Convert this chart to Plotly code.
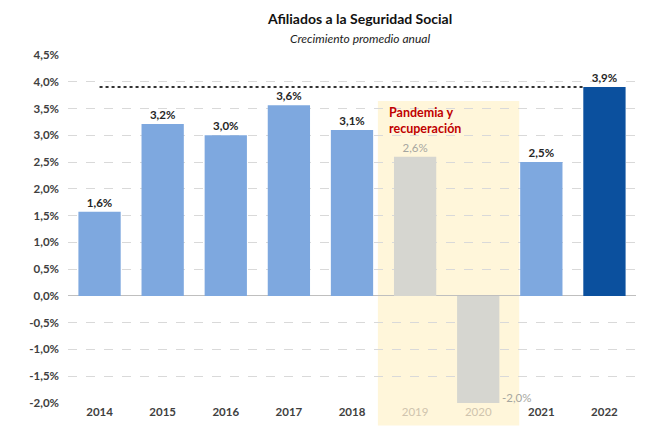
import plotly.graph_objects as go

years = [2014, 2015, 2016, 2017, 2018, 2019, 2020, 2021, 2022]
values = [1.57, 3.21, 3.0, 3.56, 3.1, 2.6, -2.0, 2.5, 3.9]
bar_colors = ["#7EA8DF", "#7EA8DF", "#7EA8DF", "#7EA8DF", "#7EA8DF",
              "#D6D6D0", "#D6D6D0", "#7EA8DF", "#0B509E"]
pandemic_years = [2019, 2020]
y_ticks = [-2.0, -1.5, -1.0, -0.5, 0.0, 0.5, 1.0, 1.5, 2.0, 2.5, 3.0, 3.5, 4.0, 4.5]
ref_level = 3.9


def fmt(v):
    return f"{v:.1f}".replace(".", ",") + "%"


texts = []
text_colors = []
for yr, v in zip(years, values):
    if yr == 2019:
        texts.append(fmt(v))
        text_colors.append("#A6A6A0")
    elif yr == 2020:
        texts.append("")
        text_colors.append("#A6A6A0")
    else:
        texts.append("<b>" + fmt(v) + "</b>")
        text_colors.append("#262626")

ticktext = []
for yr in years:
    if yr in pandemic_years:
        ticktext.append(f"<span style='color:#CFC4AE'>{yr}</span>")
    else:
        ticktext.append(f"<b>{yr}</b>")

fig = go.Figure()
fig.add_trace(go.Bar(
    x=years, y=values, width=0.67,
    marker=dict(color=bar_colors, line=dict(width=0)),
    text=texts, textposition="outside", cliponaxis=False,
    textfont=dict(color=text_colors, size=11.5, family="Lato"),
    hoverinfo="skip",
))

# pandemic highlight
fig.add_shape(type="rect", xref="x", yref="paper", x0=2018.41, x1=2020.65,
              y0=-0.065, y1=(3.64 + 2.0) / 6.5, fillcolor="#FFF6DA",
              line=dict(width=0), layer="below")
# reference dotted line
fig.add_shape(type="line", xref="x", yref="y", x0=2014, x1=2021.66,
              y0=ref_level, y1=ref_level,
              line=dict(color="#333333", width=2, dash="dot"))

fig.add_annotation(x=2018.55, y=3.6, xref="x", yref="y", xanchor="left", yanchor="top",
                   text="<b>Pandemia y<br>recuperación</b>", showarrow=False, align="left",
                   font=dict(color="#C00000", size=12.5, family="Lato"))
fig.add_annotation(x=2020, y=values[6], xref="x", yref="y", xanchor="left", yanchor="middle",
                   xshift=22, yshift=6, text=fmt(values[6]), showarrow=False,
                   font=dict(color="#A6A6A0", size=11.5, family="Lato"))

fig.add_annotation(x=0.514, y=1.0, xref="paper", yref="paper", yanchor="top", yshift=47,
                   text="<b>Afiliados a la Seguridad Social</b>", showarrow=False,
                   font=dict(size=14, color="#111111", family="Lato"))
fig.add_annotation(x=0.514, y=1.0, xref="paper", yref="paper", yanchor="bottom", yshift=7,
                   text="<i>Crecimiento promedio anual</i>", showarrow=False,
                   font=dict(size=12, color="#222222", family="Lato"))

fig.update_layout(
    width=642, height=425,
    margin=dict(l=60, r=14, t=47, b=30),
    plot_bgcolor="white", paper_bgcolor="white",
    showlegend=False, bargap=0.33,
    separators=",.",
)
fig.update_xaxes(range=[2013.5, 2022.5], tickvals=years, ticktext=ticktext,
                 showgrid=False, zeroline=False, showline=False, ticks="",
                 tickfont=dict(size=11.5, color="#404040", family="Lato"))
fig.update_yaxes(range=[-2.0, 4.5], tickvals=y_ticks,
                 ticktext=["<b>" + fmt(t) + "</b>" for t in y_ticks],
                 showgrid=True, gridcolor="#D9D9D9", griddash="dash", gridwidth=1,
                 zeroline=True, zerolinecolor="#BFBFBF", zerolinewidth=1,
                 showline=False, ticks="", ticklabelstandoff=8,
                 tickfont=dict(size=11.5, color="#404040", family="Lato"))

fig.write_html("out.html")
